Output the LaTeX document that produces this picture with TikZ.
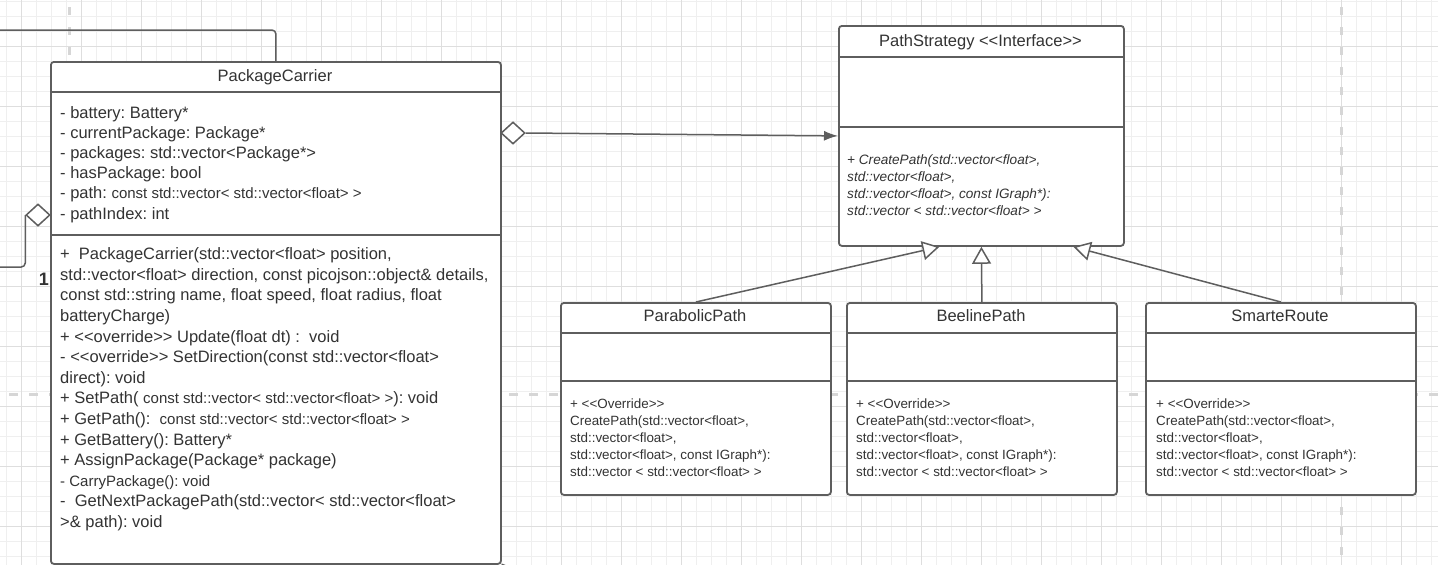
\documentclass[tikz,border=0pt]{standalone}
\usepackage{fontspec}
\setmainfont{Liberation Sans}[Ligatures=TeXOff]
\frenchspacing
\usetikzlibrary{arrows.meta,shapes.geometric}
\definecolor{gridminor}{HTML}{EFEFEF}
\definecolor{gridmajor}{HTML}{DEDEDE}
\definecolor{dashc}{HTML}{D6D6D6}
\definecolor{linec}{HTML}{5E5E5E}
\definecolor{txt}{HTML}{333333}
\newcommand{\bigf}{\fontsize{16.5}{20.2}\selectfont}
\newcommand{\methf}{\fontsize{16.5}{20.6}\selectfont}
\newcommand{\smf}{\fontsize{15}{18}\selectfont}
\newcommand{\subf}{\fontsize{13.4}{17}\selectfont}
\newcommand{\itf}{\fontsize{13.6}{17.2}\selectfont\itshape}
\tikzset{
  umlbox/.style={draw=linec, line width=1.8pt, fill=white, rounded corners=3pt, inner sep=0pt, anchor=north west},
  sepline/.style={draw=linec, line width=1.8pt},
  conn/.style={draw=linec, line width=1.5pt},
  bodytext/.style={anchor=base west, inner sep=0pt, text=txt, align=left},
  titletext/.style={anchor=base, inner sep=0pt, text=txt, font=\bigf},
  agg/.style={diamond, draw=linec, fill=white, line width=1.5pt, minimum width=24pt, minimum height=22pt, inner sep=0pt},
  inh/.style={conn, -{Triangle[fill=white, length=17pt, width=19pt]}},
  gridmin/.style={draw=gridminor, line width=1pt},
  gridmaj/.style={draw=gridmajor, line width=1pt},
  guide/.style={draw=dashc, line width=3pt}
}
\begin{document}
\begin{tikzpicture}[x=1pt,y=-1pt]
\useasboundingbox (0,0) rectangle (1438,565);
\clip (0,0) rectangle (1438,565);
\fill[white] (0,0) rectangle (1438,565);
% grid
\foreach \x in {6,21,...,1436} \draw[gridmin] (\x,0) -- (\x,565);
\foreach \y in {1,16,...,565} \draw[gridmin] (0,\y) -- (1438,\y);
\foreach \x in {21,81,...,1436} \draw[gridmaj] (\x,0) -- (\x,565);
\foreach \y in {46,106,...,565} \draw[gridmaj] (0,\y) -- (1438,\y);
% guides
\draw[guide, dash pattern=on 8pt off 12pt] (69,7) -- (69,565);
\draw[guide, dash pattern=on 8pt off 12pt] (1341,7) -- (1341,565);
\draw[guide, dash pattern=on 9pt off 11pt] (9,394) -- (1438,394);

% PackageCarrier
\node[umlbox, minimum width=450pt, minimum height=502pt] (pc) at (50,61) {};
\draw[sepline] (pc.west |- 0,92) -- (pc.east |- 0,92);
\draw[sepline] (pc.west |- 0,235) -- (pc.east |- 0,235);
\node[titletext] (pct) at (275,81) {PackageCarrier};
\node[bodytext, font=\bigf] (pca) at (60,219) {- battery: Battery*\\
- currentPackage: Package*\\
- packages: std::vector<Package*>\\
- hasPackage: bool\\
- path: {\smf const std::vector< std::vector<float> >}\\
- pathIndex: int};
\node[bodytext, font=\methf] (pcm) at (60,527.5) {+\ \ PackageCarrier(std::vector<float> position,\\
std::vector<float> direction, const picojson::object\& details,\\
const std::string name, float speed, float radius, float\\
batteryCharge)\\
+ <<override>> Update(float dt) :\ \ void\\
- <<override>> SetDirection(const std::vector<float>\\
direct): void\\
+ SetPath( {\smf const std::vector< std::vector<float> >}): void\\
+ GetPath():\ \ {\smf const std::vector< std::vector<float> >}\\
+ GetBattery(): Battery*\\
+ AssignPackage(Package* package)\\
{\smf - CarryPackage(): void}\\
-\ \ GetNextPackagePath(std::vector< std::vector<float>\\
>\& path):\ void};

% PathStrategy
\node[umlbox, minimum width=285pt, minimum height=220pt] (ps) at (838,25) {};
\draw[sepline] (ps.west |- 0,57) -- (ps.east |- 0,57);
\draw[sepline] (ps.west |- 0,127) -- (ps.east |- 0,127);
\node[titletext] (pst) at (980.5,46) {PathStrategy <<Interface>>};
\node[bodytext, font=\itf] (psm) at (847,215.6) {+ CreatePath(std::vector<float>,\\
std::vector<float>,\\
std::vector<float>, const IGraph*):\\
std::vector < std::vector<float> >};

% subclasses
\node[umlbox, minimum width=270pt, minimum height=192pt] (pp) at (560,302) {};
\node[umlbox, minimum width=270pt, minimum height=192pt] (bp) at (846,302) {};
\node[umlbox, minimum width=270pt, minimum height=192pt] (sr) at (1145,302) {};
\foreach \b in {pp,bp,sr} {
  \draw[sepline] (\b.west |- 0,333) -- (\b.east |- 0,333);
  \draw[sepline] (\b.west |- 0,381) -- (\b.east |- 0,381);
}
\node[titletext] (ppt) at (695,321) {ParabolicPath};
\node[titletext] (bpt) at (981,321) {BeelinePath};
\node[titletext] (srt) at (1280,321) {SmarteRoute};
\node[bodytext, font=\subf] (ppm) at (570,476.5) {+ <<Override>>\\
CreatePath(std::vector<float>,\\
std::vector<float>,\\
std::vector<float>, const IGraph*):\\
std::vector < std::vector<float> >};
\node[bodytext, font=\subf] (bpm) at (856,476.5) {+ <<Override>>\\
CreatePath(std::vector<float>,\\
std::vector<float>,\\
std::vector<float>, const IGraph*):\\
std::vector < std::vector<float> >};
\node[bodytext, font=\subf] (srm) at (1156,476.5) {+ <<Override>>\\
CreatePath(std::vector<float>,\\
std::vector<float>,\\
std::vector<float>, const IGraph*):\\
std::vector < std::vector<float> >};

% aggregation diamonds
\node[agg] (d1) at (38,215) {};
\node[agg] (d2) at (513,133) {};
\coordinate (lt) at (0,30);
\coordinate (lb) at (0,267);
\coordinate (br) at (516,570);

% connectors
\draw[conn, rounded corners=4pt] (pc.north) |- (lt);
\draw[conn, rounded corners=4pt] (d1.west) |- (lb);
\draw[conn, -{Latex[length=14pt, width=10pt]}] (d2.east) -- (ps.west);
\draw[inh] (pp.north) -- ([xshift=-42pt]ps.south);
\draw[inh] (bp.north) -- (ps.south);
\draw[inh] (sr.north) -- ([xshift=92pt]ps.south);
\draw[conn, rounded corners=3pt] (pc.south east) ++(0,-0.5) -- (br -| 516,0) ;
\node[font=\bfseries\fontsize{18}{20}\selectfont, text=txt, inner sep=0pt] (one) at (44,279.5) {1};
\end{tikzpicture}
\end{document}
